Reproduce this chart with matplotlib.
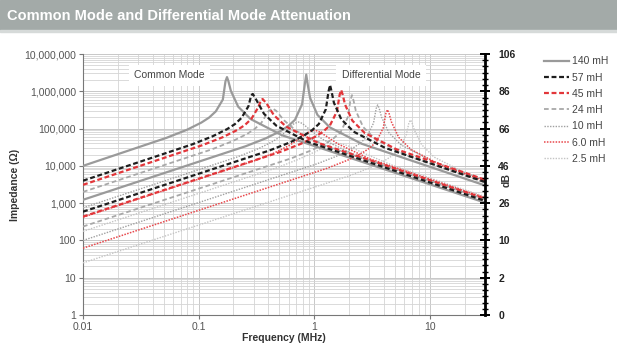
import matplotlib
matplotlib.use("Agg")
import matplotlib.pyplot as plt
from matplotlib.patches import Rectangle
from matplotlib.ticker import FixedLocator, NullFormatter, FixedFormatter

plt.rcParams['font.family'] = ['Liberation Sans', 'DejaVu Sans']

# ---------------- data (frequency in MHz, impedance in ohms) ----------------
legend_labels = ["140 mH", "57 mH", "45 mH", "24 mH", "10 mH", "6.0 mH", "2.5 mH"]

# Common mode curves
cm140_f = [0.01, 0.0528, 0.0792, 0.1056, 0.1232, 0.1408, 0.162, 0.1707, 0.176, 0.181, 0.19, 0.22, 0.2816, 0.528, 30]
cm140_z = [10000, 56500, 92700, 144700, 197000, 289000, 599000, 1845000, 2400000, 1870000, 1030000, 386000, 180000, 66000, 1032]
cm57_f = [0.01, 0.088, 0.132, 0.176, 0.206, 0.235, 0.27, 0.285, 0.294, 0.3175, 0.3675, 0.47, 0.882, 30]
cm57_z = [4000, 37700, 62000, 96400, 131700, 192900, 400000, 779000, 850000, 568000, 250000, 119500, 44000, 1153]
cm45_f = [0.01, 0.107, 0.161, 0.215, 0.251, 0.286, 0.329, 0.347, 0.358, 0.387, 0.4475, 0.573, 1.074, 30]
cm45_z = [3100, 35600, 58400, 91000, 124000, 182000, 378000, 588000, 620000, 471000, 229000, 112000, 41600, 1325]
cm24_f = [0.01, 0.131, 0.196, 0.262, 0.305, 0.349, 0.401, 0.436, 0.471, 0.545, 0.698, 1.308, 30]
cm24_z = [2000, 27900, 45800, 71500, 97400, 142700, 289000, 348000, 296000, 169000, 86400, 32500, 1264]
cm10_f = [0.01, 0.219, 0.3285, 0.438, 0.511, 0.584, 0.67, 0.73, 0.788, 0.9125, 1.168, 2.19, 30]
cm10_z = [750, 17600, 28800, 45000, 61300, 89800, 136500, 150000, 138000, 94500, 52600, 20300, 1333]
cm6_f = [0.01, 0.3, 0.45, 0.6, 0.7, 0.8, 0.92, 1.0, 1.08, 1.25, 1.6, 3.0, 30]
cm6_z = [420, 13500, 22100, 34500, 47000, 64800, 84700, 90000, 85400, 64800, 38900, 15500, 1400]
cm2p5_f = [0.01, 0.48, 0.72, 0.96, 1.28, 1.47, 1.6, 1.73, 2.0, 2.56, 4.8, 30]
cm2p5_z = [175, 9000, 14700, 21900, 33600, 38900, 40000, 39100, 33600, 23300, 10200, 1497]

# Differential mode curves
dm140_f = [0.01, 0.256, 0.384, 0.512, 0.597, 0.682, 0.785, 0.827, 0.853, 0.879, 0.921, 1.066, 1.365, 2.56, 30]
dm140_z = [1230, 33700, 55300, 86100, 117600, 172000, 450000, 1470000, 2800000, 1500000, 663000, 233000, 107600, 39400, 2986]
dm57_f = [0.01, 0.411, 0.6165, 0.822, 0.959, 1.096, 1.26, 1.329, 1.37, 1.411, 1.48, 1.7125, 2.19, 4.11, 30]
dm57_z = [590, 25900, 42500, 66200, 90600, 132500, 330000, 987000, 1480000, 1000000, 494000, 178000, 82700, 30300, 3698]
dm45_f = [0.01, 0.513, 0.7695, 1.026, 1.197, 1.368, 1.573, 1.659, 1.71, 1.761, 1.847, 2.1375, 2.736, 5.13, 30]
dm45_z = [435, 23900, 39200, 61000, 83400, 122000, 290000, 809000, 1080000, 819000, 441000, 163000, 76000, 27900, 4254]
dm24_f = [0.01, 0.636, 0.954, 1.272, 1.484, 1.696, 1.95, 2.056, 2.12, 2.184, 2.29, 2.65, 3.39, 6.36, 30]
dm24_z = [236, 16000, 26400, 41000, 56000, 82000, 200000, 570000, 790000, 578000, 300000, 110000, 51200, 18700, 3551]
dm10_f = [0.01, 1.062, 1.593, 2.124, 2.478, 2.832, 3.257, 3.434, 3.54, 3.646, 3.823, 4.425, 5.664, 10.62, 30]
dm10_z = [100, 11400, 18600, 29000, 39700, 58000, 140000, 345000, 430000, 349000, 203000, 77400, 36100, 13200, 4240]
dm6_f = [0.01, 1.29, 1.935, 2.58, 3.01, 3.44, 3.956, 4.171, 4.3, 4.429, 4.644, 5.375, 6.88, 12.9, 30]
dm6_z = [62, 8600, 14100, 21900, 29900, 43700, 105000, 259000, 320000, 262000, 153000, 58300, 27300, 10000, 3909]
dm2p5_f = [0.01, 2.04, 3.06, 4.08, 4.76, 5.44, 6.256, 6.6, 6.8, 7.0, 7.344, 8.5, 10.88, 20.4, 30]
dm2p5_z = [25, 5500, 8950, 13900, 19000, 27800, 68000, 145000, 170000, 146000, 91800, 36900, 17200, 6400, 4067]

y_ticks = [1, 10, 100, 1000, 10000, 100000, 1000000, 10000000]
y_tick_labels = ["1", "10", "100", "1,000", "10,000", "100,000", "1,000,000", "10,000,000"]
db_tick_labels = ["0", "2", "10", "26", "46", "66", "86", "106"]
x_ticks = [0.01, 0.1, 1, 10]
x_tick_labels = ["0.01", "0.1", "1", "10"]

# ---------------- styles ----------------
styles = [
    dict(color="#9a9a9a", lw=1.6, ls="-"),
    dict(color="#1e1e1e", lw=1.6, dashes=(2.2, 1.2)),
    dict(color="#e2363a", lw=1.6, dashes=(2.2, 1.2)),
    dict(color="#a8a8a8", lw=1.3, dashes=(2.6, 1.6)),
    dict(color="#a0a0a0", lw=1.0, dashes=(1.0, 1.0)),
    dict(color="#e8484c", lw=1.1, dashes=(1.0, 0.9)),
    dict(color="#c4c4c4", lw=1.0, dashes=(1.0, 1.0)),
]

W, H = 617, 353
fig = plt.figure(figsize=(W / 100, H / 100), dpi=100)

# title bar
fig.patches.append(Rectangle((0, 1 - 30 / H), 1, 30 / H, transform=fig.transFigure,
                             color="#a3aaa8", zorder=0))
fig.patches.append(Rectangle((0, 1 - 32 / H), 1, 2 / H, transform=fig.transFigure,
                             color="#d6dad9", zorder=0))
fig.text(7 / W, 1 - 15.5 / H, "Common Mode and Differential Mode Attenuation",
         color="white", fontsize=10.5, fontweight="bold", va="center", ha="left")

ax = fig.add_axes([83 / W, 1 - 315 / H, (485 - 83) / W, (315 - 54) / H])
ax.set_xscale("log")
ax.set_yscale("log")
ax.set_xlim(0.01, 30)
ax.set_ylim(1, 1e7)

ax.grid(True, which="major", color="#c8c8c8", lw=0.7)
ax.grid(True, which="minor", color="#d4d4d4", lw=0.6)
ax.set_axisbelow(True)

cm_f = [cm140_f, cm57_f, cm45_f, cm24_f, cm10_f, cm6_f, cm2p5_f]
cm_z = [cm140_z, cm57_z, cm45_z, cm24_z, cm10_z, cm6_z, cm2p5_z]
dm_f = [dm140_f, dm57_f, dm45_f, dm24_f, dm10_f, dm6_f, dm2p5_f]
dm_z = [dm140_z, dm57_z, dm45_z, dm24_z, dm10_z, dm6_z, dm2p5_z]

order = [6, 4, 3, 0, 5, 2, 1]
for i in order:
    st = styles[i]
    ax.plot(cm_f[i], cm_z[i], zorder=3 + (i in (1, 2)), **st)
    ax.plot(dm_f[i], dm_z[i], zorder=3 + (i in (1, 2)), **st)
hs = [plt.Line2D([], [], **styles[i]) for i in range(7)]

ax.set_xticks(x_ticks)
ax.set_xticklabels(x_tick_labels)
ax.xaxis.set_minor_formatter(NullFormatter())
ax.set_yticks(y_ticks)
ax.set_yticklabels(y_tick_labels)
ax.yaxis.set_minor_formatter(NullFormatter())
ax.tick_params(which="major", labelsize=7.5, labelcolor="#555555", color="#777777",
               length=3, width=0.8, pad=2)
ax.tick_params(which="minor", length=0)
for s in ["top", "right"]:
    ax.spines[s].set_visible(False)
for s in ["left", "bottom"]:
    ax.spines[s].set_color("#777777")
    ax.spines[s].set_linewidth(0.8)

ax.set_xlabel("Frequency (MHz)", fontsize=7.5, fontweight="bold", color="#333333", labelpad=1)
ax.set_ylabel("Impedance (\u03a9)", fontsize=7.5, fontweight="bold", color="#333333", labelpad=3)

# right dB axis
ax2 = ax.twinx()
ax2.set_yscale("log")
ax2.set_ylim(1, 1e7)
ax2.yaxis.set_major_locator(FixedLocator(y_ticks))
ax2.yaxis.set_major_formatter(FixedFormatter(db_tick_labels))
minor = [10 ** (k / 6) for k in range(0, 43) if k % 6 != 0]
ax2.yaxis.set_minor_locator(FixedLocator(minor))
ax2.yaxis.set_minor_formatter(NullFormatter())
ax2.tick_params(which="major", direction="inout", length=7, width=1.4, labelsize=7.5,
                color="black", pad=6)
ax2.tick_params(which="minor", direction="inout", length=4, width=1.0, color="black")
for lab in ax2.get_yticklabels():
    lab.set_fontweight("bold")
    lab.set_color("#222222")
for s in ["top", "left", "bottom"]:
    ax2.spines[s].set_visible(False)
ax2.spines["right"].set_linewidth(2)
ax2.spines["right"].set_color("black")
fig.text(507 / W, 1 - 180 / H, "dB", rotation=90, fontsize=7.5, fontweight="bold",
         color="#333333", ha="center", va="center")

# annotations
ax.text(0.056, 2.7e6, "Common Mode", fontsize=7.5, color="#444444", ha="center", va="center",
        zorder=5, bbox=dict(facecolor="white", edgecolor="none", pad=4))
ax.text(3.8, 2.7e6, "Differential Mode", fontsize=7.5, color="#444444", ha="center",
        va="center", zorder=5, bbox=dict(facecolor="white", edgecolor="none", pad=4))

fig.legend(hs, legend_labels, loc="upper left", bbox_to_anchor=(535 / W, 1 - 47 / H),
           frameon=False, fontsize=7.5, handlelength=2.4, handletextpad=0.25,
           labelspacing=0.6, labelcolor="#444444")

fig.savefig("out.png", dpi=100)
